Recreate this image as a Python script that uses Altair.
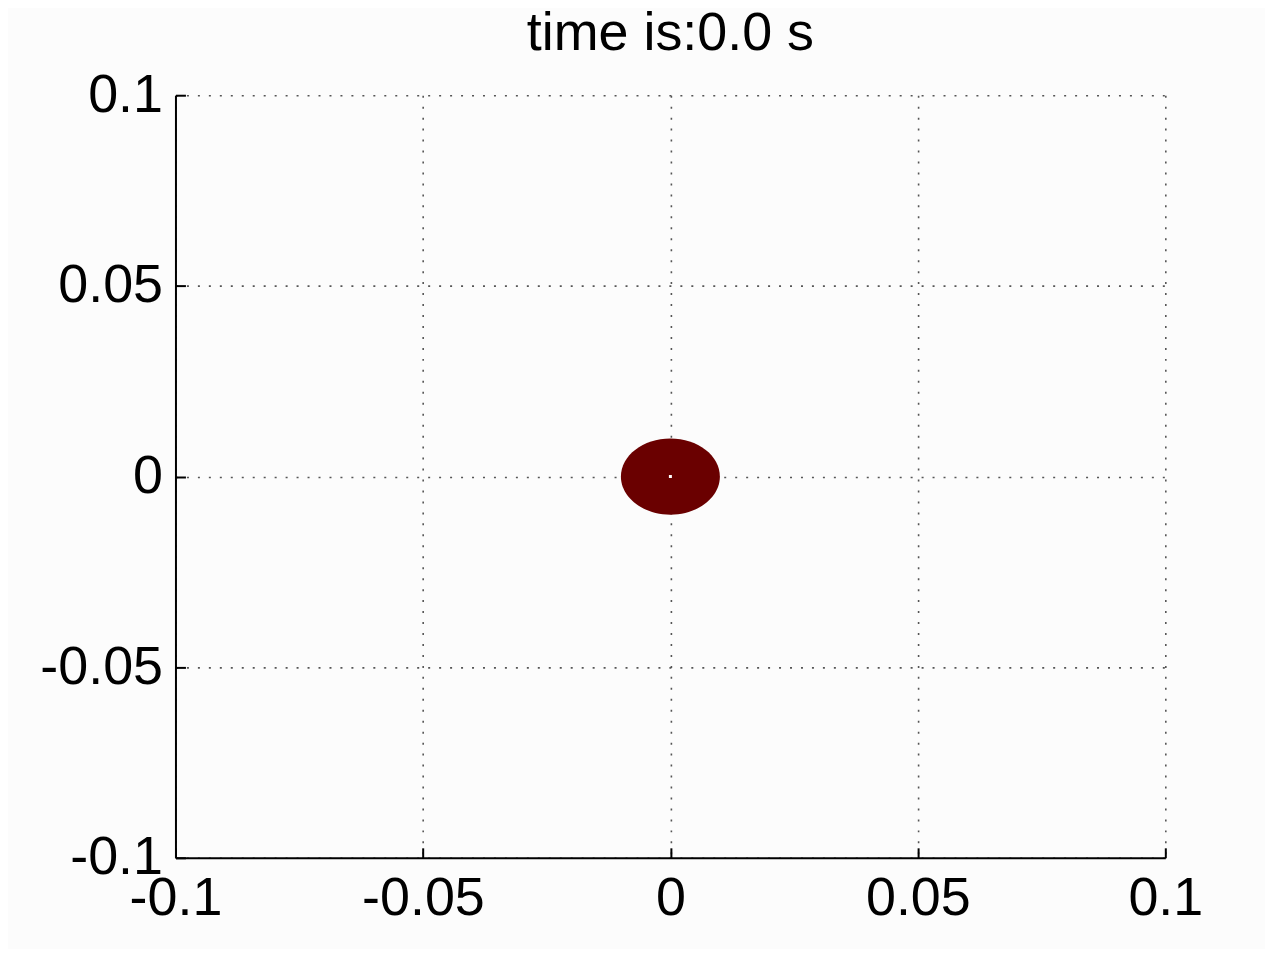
import altair as alt
import pandas as pd

# data
tick_values = [-0.1, -0.05, 0, 0.05, 0.1]
center_x = [0.0]
center_y = [0.0]
radius = [0.01]
title_text = "time is:0.0 s"

W, H = 993, 765
FONT = "Liberation Sans"

df = pd.DataFrame({"x": center_x, "y": center_y, "r": radius})

xscale = alt.Scale(domain=[-0.1, 0.1], nice=False, zero=False)
yscale = alt.Scale(domain=[-0.1, 0.1], nice=False, zero=False)

ry_ratio = (radius[0] * H / 0.2) / (radius[0] * W / 0.2)
ellipse_path = f"M-1,0A1,{ry_ratio:.4f},0,1,1,1,0A1,{ry_ratio:.4f},0,1,1,-1,0Z"
px_w = 2 * radius[0] * W / 0.2

main_x_axis = alt.Axis(values=tick_values, labelExpr="toString(datum.value)", ticks=False,
                       grid=True, gridDash=[2, 9], gridColor="#555", gridWidth=1.6,
                       domain=True, domainColor="black", domainWidth=2,
                       labelFont=FONT, labelFontSize=54, labelColor="black", labelPadding=14,
                       labelOverlap=False, labelFlush=False, labelBound=False, title=None)
main_y_axis = alt.Axis(values=tick_values, labelExpr="toString(datum.value)", ticks=False,
                       grid=True, gridDash=[2, 9], gridColor="#555", gridWidth=1.6,
                       domain=True, domainColor="black", domainWidth=2,
                       labelFont=FONT, labelFontSize=54, labelColor="black", labelPadding=13,
                       labelOverlap=False, labelFlush=False, labelBound=False, title=None)

blob = alt.Chart(df).mark_point(shape=ellipse_path, filled=True, color="#6a0000", opacity=1,
                                size=px_w ** 2).encode(
    x=alt.X("x:Q", scale=xscale, axis=main_x_axis),
    y=alt.Y("y:Q", scale=yscale, axis=main_y_axis),
)

# inward-pointing tick marks: top/right axes moved onto the bottom/left edges
tick_x_axis = alt.Axis(values=tick_values, orient="top", offset=-H, domain=False, labels=False,
                       grid=False, ticks=True, tickSize=10, tickColor="black", tickWidth=2, title=None)
tick_y_axis = alt.Axis(values=tick_values, orient="right", offset=-W, domain=False, labels=False,
                       grid=False, ticks=True, tickSize=10, tickColor="black", tickWidth=2, title=None)

dot = alt.Chart(df).mark_point(shape="square", filled=True, color="white", opacity=1, size=9).encode(
    x=alt.X("x:Q", scale=xscale, axis=tick_x_axis),
    y=alt.Y("y:Q", scale=yscale, axis=tick_y_axis),
)

chart = alt.layer(blob, dot).resolve_axis(x="independent", y="independent").properties(
    width=W, height=H,
    autosize=alt.AutoSizeParams(type="none"),
    padding={"left": 168, "top": 86, "right": 100, "bottom": 90},
    background="#fcfcfc",
    title=alt.Title(title_text, font=FONT, fontSize=54, fontWeight="normal", color="black",
                    anchor="middle", frame="group", baseline="alphabetic", offset=-36),
).configure_view(stroke=None)

chart.save("out.html", embed_options={"renderer": "svg", "actions": False})
